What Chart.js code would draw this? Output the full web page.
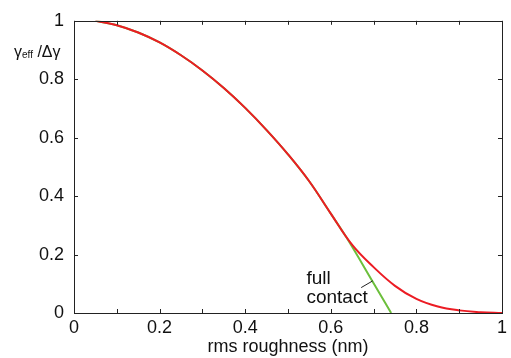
<!DOCTYPE html>
<html>
<head>
<meta charset="utf-8">
<script src="https://cdn.jsdelivr.net/npm/chart.js@4.4.1/dist/chart.umd.min.js"></script>
<style>
  html, body { margin: 0; padding: 0; background: #fff; }
  #wrap { width: 511px; height: 358px; }
</style>
</head>
<body>
<div id="wrap"><canvas id="roughChart"></canvas></div>
<script>
// values
const roughness = [0.05, 0.1, 0.15, 0.2, 0.25, 0.3, 0.35, 0.4, 0.45, 0.5, 0.55, 0.6, 0.65, 0.7, 0.75, 0.8, 0.85, 0.9, 0.95, 1.0];
const gammaRatio = [1.0, 0.985, 0.96, 0.926, 0.882, 0.830, 0.770, 0.702, 0.626, 0.543, 0.45, 0.34, 0.233, 0.157, 0.093, 0.048, 0.022, 0.009, 0.003, 0.0];
const contactX = [0.05, 0.1, 0.15, 0.2, 0.25, 0.3, 0.35, 0.4, 0.45, 0.5, 0.55, 0.6, 0.636, 0.7, 0.741];
const contactY = [1.0, 0.985, 0.96, 0.926, 0.882, 0.830, 0.770, 0.702, 0.626, 0.543, 0.45, 0.34, 0.26, 0.102, 0.0];
const xTickMarks = [0, 0.1, 0.2, 0.3, 0.4, 0.5, 0.6, 0.7, 0.8, 0.9, 1];
const yTickMarks = [0, 0.2, 0.4, 0.6, 0.8, 1];

function pts(xs, ys) {
  return xs.map((x, i) => ({ x: x, y: ys[i] }));
}

// box, inward ticks and the text notes
const framePlugin = {
  id: 'frame',
  afterDraw(chart) {
    const ctx = chart.ctx;
    const a = chart.chartArea;
    const x = chart.scales.x, y = chart.scales.y;
    ctx.save();
    ctx.strokeStyle = '#222';
    ctx.lineWidth = 1;
    ctx.strokeRect(Math.round(a.left) + 0.5, Math.round(a.top) + 0.5,
      Math.round(a.right - a.left), Math.round(a.bottom - a.top));
    ctx.beginPath();
    xTickMarks.forEach(v => {
      const px = Math.round(x.getPixelForValue(v)) + 0.5;
      ctx.moveTo(px, a.bottom); ctx.lineTo(px, a.bottom - 4);
      ctx.moveTo(px, a.top); ctx.lineTo(px, a.top + 4);
    });
    yTickMarks.forEach(v => {
      const py = Math.round(y.getPixelForValue(v)) + 0.5;
      ctx.moveTo(a.left, py); ctx.lineTo(a.left + 4, py);
      ctx.moveTo(a.right, py); ctx.lineTo(a.right - 4, py);
    });
    ctx.stroke();

    // leader line for "full contact"
    ctx.beginPath();
    ctx.moveTo(x.getPixelForValue(0.671), y.getPixelForValue(0.087));
    ctx.lineTo(x.getPixelForValue(0.698), y.getPixelForValue(0.11));
    ctx.stroke();

    ctx.fillStyle = '#111';
    ctx.textAlign = 'left';
    ctx.textBaseline = 'alphabetic';
    ctx.font = '19px "Liberation Sans", Arial, sans-serif';
    ctx.fillText('full', x.getPixelForValue(0.543), y.getPixelForValue(0.1));
    ctx.fillText('contact', x.getPixelForValue(0.543), y.getPixelForValue(0.033));

    // y label, top left
    let lx = a.left - 60;
    const ly = a.top + 36;
    ctx.font = '16px "Liberation Sans", Arial, sans-serif';
    ctx.fillText('γ', lx, ly);
    lx += ctx.measureText('γ').width;
    ctx.font = '10px "Liberation Sans", Arial, sans-serif';
    ctx.fillText('eff', lx, ly + 1);
    lx += ctx.measureText('eff').width;
    ctx.font = '16px "Liberation Sans", Arial, sans-serif';
    ctx.fillText(' /Δγ', lx, ly);
    ctx.restore();
  }
};

const tickLabel = v => String(+Number(v).toFixed(1));

document.addEventListener('DOMContentLoaded', function () {
  const el = document.getElementById('roughChart');
  new Chart(el.getContext('2d'), {
    type: 'line',
    data: {
      datasets: [{
        label: 'rough',
        data: pts(roughness, gammaRatio),
        borderColor: '#ec1c24',
        borderWidth: 2,
        pointRadius: 0,
        tension: 0.4,
        order: 1
      }, {
        label: 'full contact',
        data: pts(contactX, contactY),
        borderColor: '#6cbf3c',
        borderWidth: 2,
        pointRadius: 0,
        cubicInterpolationMode: 'monotone',
        order: 2
      }]
    },
    options: {
      responsive: true,
      maintainAspectRatio: false,
      animation: false,
      layout: { padding: { left: 0, right: 6, top: 14, bottom: 0 } },
      plugins: { legend: { display: false }, tooltip: { enabled: false } },
      scales: {
        x: {
          type: 'linear',
          min: 0, max: 1,
          grid: { display: false, drawTicks: false },
          border: { display: false },
          ticks: {
            stepSize: 0.2, padding: 4, color: '#111', callback: tickLabel,
            font: { size: 18, family: '"Liberation Sans", Arial, sans-serif' }
          },
          title: {
            display: true, text: 'rms roughness (nm)', color: '#111',
            padding: { top: 0, bottom: 0 },
            font: { size: 18, family: '"Liberation Sans", Arial, sans-serif' }
          },
          afterFit(scale) { scale.height = 45; }
        },
        y: {
          min: 0, max: 1,
          grid: { display: false, drawTicks: false },
          border: { display: false },
          ticks: {
            stepSize: 0.2, padding: 10, color: '#111', callback: tickLabel,
            font: { size: 18, family: '"Liberation Sans", Arial, sans-serif' }
          },
          afterFit(scale) { scale.width = 74; }
        }
      }
    },
    plugins: [framePlugin]
  });
});
</script>
</body>
</html>
